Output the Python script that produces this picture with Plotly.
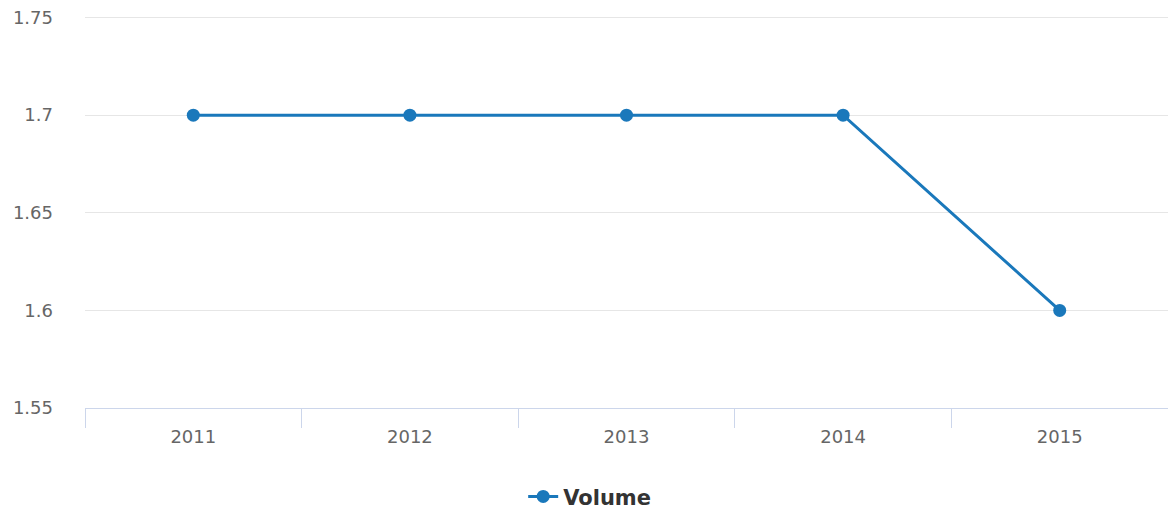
import plotly.graph_objects as go

# Annual volume series
years = ["2011", "2012", "2013", "2014", "2015"]
volume = [1.7, 1.7, 1.7, 1.7, 1.6]

y_ticks = [1.55, 1.6, 1.65, 1.7, 1.75]
y_tick_labels = ["1.55", "1.6", "1.65", "1.7", "1.75"]

line_color = "#1a78bb"

fig = go.Figure()
fig.add_trace(go.Scatter(
    x=years,
    y=volume,
    mode="lines+markers",
    name="Volume",
    line=dict(color=line_color, width=3),
    marker=dict(color=line_color, size=13),
))

fig.update_layout(
    width=1168,
    height=510,
    margin=dict(l=85, r=0, t=16, b=102, autoexpand=False),
    paper_bgcolor="white",
    plot_bgcolor="white",
    font=dict(family="DejaVu Sans", color="#666666", size=18),
    showlegend=True,
    legend=dict(
        orientation="h",
        x=0.466,
        xanchor="center",
        xref="paper",
        yref="container",
        y=0.026,
        yanchor="middle",
        font=dict(size=21, color="#333333", family="DejaVu Sans", weight="bold"),
        itemwidth=30,
    ),
    xaxis=dict(
        type="category",
        tickson="boundaries",
        ticks="outside",
        ticklen=19,
        tickcolor="#ccd6eb",
        showline=True,
        linecolor="#ccd6eb",
        linewidth=1,
        showgrid=False,
        range=[-0.5, 4.5],
        tickfont=dict(size=18, color="#666666"),
        ticklabelstandoff=12,
    ),
    yaxis=dict(
        range=[1.55, 1.7508],
        tickvals=y_ticks,
        ticktext=y_tick_labels,
        showgrid=True,
        gridcolor="#e6e6e6",
        gridwidth=1,
        zeroline=False,
        ticks="",
        ticklabelstandoff=31,
        tickfont=dict(size=18, color="#666666"),
    ),
)

fig.write_html("out.html")
